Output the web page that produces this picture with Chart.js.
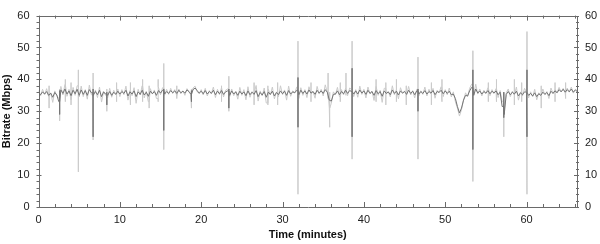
<!DOCTYPE html>
<html>
<head>
<meta charset="utf-8">
<script src="https://cdn.jsdelivr.net/npm/chart.js@4.4.1/dist/chart.umd.min.js"></script>
<style>
html,body{margin:0;padding:0;background:#fff;}
#wrap{width:600px;height:244px;position:relative;}
</style>
</head>
<body>
<div id="wrap"><canvas id="c" width="600" height="244"></canvas></div>
<script>
// sampling step of the base series, in minutes
const STEP_MIN = 0.25;
const X_MAX = 66.2;
const X_TICKS = [0, 10, 20, 30, 40, 50, 60];
const Y_TICKS = [0, 10, 20, 30, 40, 50, 60];

// light grey series: raw bitrate (Mbps), base level
const rawBitrate = [
36.5,34.8,36.9,35.2,37.1,34.6,35.8,32.8,36.4,34.9,34.0,37.8,35.1,38.4,34.7,36.9,33.6,37.5,35.0,38.0,
34.5,37.9,34.6,36.8,33.8,38.2,35.2,34.5,36.7,34.3,37.6,32.9,36.2,35.0,34.2,37.2,34.4,36.6,35.3,37.0,
34.6,36.8,35.2,37.9,33.5,36.5,34.9,37.4,32.5,36.9,35.1,38.0,34.2,36.3,33.0,37.1,35.4,36.7,34.0,37.8,
35.2,37.4,35.0,36.9,35.3,37.2,35.6,36.8,34.9,37.0,35.5,36.4,35.0,37.1,36.0,35.2,37.3,37.9,36.2,35.5,
36.8,35.1,37.2,34.8,36.5,35.6,37.6,34.3,36.9,35.2,37.4,34.5,36.6,37.0,34.6,37.0,34.9,36.3,33.8,37.5,
35.0,36.8,33.6,37.7,34.4,36.2,35.5,38.1,33.2,36.4,34.8,37.3,32.6,36.9,35.1,37.6,33.9,36.0,34.6,38.0,
35.2,36.7,33.5,37.9,34.7,36.4,35.8,37.6,34.0,37.4,35.0,36.8,34.3,37.7,35.5,36.2,34.1,37.8,35.4,36.9,
34.8,38.3,36.0,31.0,32.5,36.1,35.2,37.5,34.6,36.8,35.1,37.2,34.9,37.3,36.8,34.6,36.8,34.4,37.9,35.3,
36.9,34.2,37.6,35.5,36.3,33.4,37.8,35.0,36.6,32.8,37.2,35.4,36.1,34.5,38.0,35.2,36.7,33.9,37.4,35.6,
36.3,34.7,37.8,35.1,36.5,34.2,36.9,34.8,36.4,35.3,37.6,34.8,36.9,35.5,37.2,34.1,36.6,35.9,37.7,34.6,
36.8,35.2,37.3,34.5,36.1,33.0,31.0,28.5,30.5,33.5,35.8,34.6,37.2,38.5,35.0,38.5,35.4,37.0,34.8,36.6,
35.5,37.4,34.9,36.8,35.6,37.1,34.3,36.5,33.0,30.0,35.8,37.0,34.6,36.3,35.1,37.6,33.5,36.0,34.8,37.2,
36.0,34.2,36.1,34.5,36.9,33.6,35.8,34.9,37.0,35.2,36.2,34.0,37.3,35.6,36.8,35.9,37.5,36.1,37.2,35.8,
37.3,36.0,37.6,35.7,36.9,36.4
];

// dark grey series: averaged bitrate (Mbps), base level
const avgBitrate = [
36.0,35.2,36.1,35.4,36.2,35.0,35.7,34.4,35.9,35.1,33.0,36.7,35.6,37.0,35.4,36.4,34.9,36.6,35.5,36.9,
35.0,36.7,35.3,36.5,35.0,36.8,35.8,35.0,36.2,35.2,36.6,34.6,36.1,35.4,35.0,36.2,35.0,36.0,35.3,36.3,
35.4,36.2,35.6,36.6,34.8,36.1,35.4,36.4,34.6,36.1,35.3,36.6,35.1,36.0,34.7,36.3,35.5,36.2,35.0,36.5,
35.7,36.6,35.4,36.2,35.6,36.5,35.8,36.4,35.6,36.6,35.8,36.3,35.7,36.7,36.2,35.3,36.8,37.3,36.5,35.7,
36.3,35.5,36.5,35.4,36.2,35.6,36.6,35.2,36.3,35.5,36.5,35.3,36.1,36.4,35.0,36.4,35.4,36.1,35.0,36.3,
35.4,36.1,34.9,36.4,35.2,36.0,35.3,36.5,34.6,35.9,35.1,36.2,34.4,36.0,35.3,36.3,34.8,35.9,35.2,36.4,
35.5,36.3,35.0,36.5,35.4,36.1,35.8,36.6,35.2,36.6,35.6,36.4,35.4,36.7,35.7,36.2,35.3,36.6,35.7,36.4,
35.6,36.8,36.0,33.5,33.2,35.3,35.4,36.4,35.2,36.2,35.5,36.6,35.6,36.5,36.2,35.4,36.4,35.4,36.7,35.7,
36.4,35.3,36.6,35.6,36.2,35.0,36.5,35.5,36.2,34.7,36.4,35.6,36.1,35.2,36.7,35.6,36.3,35.1,36.4,35.7,
36.2,35.3,36.6,35.6,36.3,35.2,36.4,35.4,36.2,35.6,36.5,35.4,36.2,35.7,36.5,35.2,36.2,35.9,36.6,35.5,
36.4,35.6,36.3,35.2,35.4,34.0,31.5,29.5,31.0,33.5,35.0,34.8,36.4,37.5,35.0,37.0,35.7,36.4,35.4,36.2,
35.7,36.5,35.5,36.3,35.7,36.4,35.2,36.0,31.5,29.0,35.3,36.2,35.2,36.0,35.4,36.3,34.8,35.8,35.2,36.1,
36.0,35.0,35.6,34.8,35.8,34.6,35.5,35.0,36.0,35.3,35.9,34.9,36.3,35.6,36.4,35.8,36.8,36.1,36.9,36.0,
36.8,36.1,37.0,36.0,36.7,36.1
];

// short bursts in the raw series: time (min), peak and trough (Mbps)
const rawSpikeTimes = [1.3, 2.6, 3.3, 4.0, 4.9, 6.7, 8.4, 9.6, 11.3, 12.8, 13.6, 14.7, 15.4, 17.0, 18.8, 22.5, 23.4, 26.5, 28.2, 29.4, 31.9, 33.5, 35.6, 35.8, 37.1, 37.8, 38.55, 41.5, 42.7, 44.0, 45.2, 46.65, 48.3, 49.6, 53.4, 55.3, 56.3, 57.2, 58.5, 59.4, 60.05, 61.8, 63.5, 64.8];
const rawSpikeHigh  = [38,   37,  40,  39,  43,  42,  37,  39,   39,   40,   38,   40,   45,   38,   37,   38,   41,   39,   38,   39,   52,   39,   42,   36,   39,   42,   52,   40,   39,   40,   38,   47,    39,   40,   49,   39,   40,   36,   40,   39,   55,    38,   39,   39];
const rawSpikeLow   = [31,   27,  33,  32,  11,  21,  30,  33,   32,   33,   31,   33,   18,   34,   31,   33,   30,   32,   32,   32,   4,    33,   34,   25,   33,   35,   15,   33,   32,   33,   32,   15,    32,   33,   8,    33,   33,   22,   32,   33,   4,     31,   33,   34];

// short bursts in the averaged series
const avgSpikeTimes = [2.6, 6.7, 8.4, 15.4, 18.8, 23.4, 31.9, 38.55, 46.65, 53.4, 57.2, 60.05];
const avgSpikeHigh  = [36.5, 37, 36, 37, 36.5, 37, 40.6, 43.5, 37, 43, 36, 43];
const avgSpikeLow   = [29, 22, 32, 24, 33, 31, 25, 22, 30, 18, 28, 22];

function buildPoints(base, sT, sH, sL){
  const pts = [];
  let s = 0;
  for (let i=0; i<base.length; i++){
    const t0 = i*STEP_MIN;
    pts.push({x:t0, y:base[i]});
    while (s < sT.length && sT[s] < t0 + STEP_MIN){
      const t = sT[s];
      pts.push({x:t, y:base[i]});
      pts.push({x:t, y:sH[s]});
      pts.push({x:t, y:sL[s]});
      pts.push({x:t, y:base[i]});
      s++;
    }
  }
  return pts;
}

const FONT = "'Liberation Sans', Arial, sans-serif";

const framePlugin = {
  id:'frame',
  afterDatasetsDraw(chart){
    const {ctx, chartArea:a, scales} = chart;
    ctx.save();
    ctx.strokeStyle = '#6a6a6a';
    ctx.lineWidth = 1;
    ctx.beginPath();
    ctx.rect(Math.round(a.left)+0.5, Math.round(a.top)+0.5, Math.round(a.right-a.left)-1, Math.round(a.bottom-a.top));
    ctx.stroke();
    ctx.beginPath();
    const xs = scales.x, ys = scales.y;
    for (let v=0; v<=X_MAX; v+=2){
      const px = Math.round(xs.getPixelForValue(v))+0.5;
      const len = (v%10===0)?5:3;
      ctx.moveTo(px, a.bottom); ctx.lineTo(px, a.bottom-len);
      ctx.moveTo(px, a.top); ctx.lineTo(px, a.top+len);
    }
    for (let v=0; v<=60; v+=2){
      const py = Math.round(ys.getPixelForValue(v))+0.5;
      const len = (v%10===0)?5:3;
      ctx.moveTo(a.left-2, py); ctx.lineTo(a.left+len-2, py);
      ctx.moveTo(a.right+2, py); ctx.lineTo(a.right-len+2, py);
    }
    ctx.stroke();
    ctx.restore();
  }
};

new Chart(document.getElementById('c'), {
  type:'line',
  data:{
    datasets:[
      {label:'avg', data:buildPoints(avgBitrate, avgSpikeTimes, avgSpikeHigh, avgSpikeLow), borderColor:'#747474', borderWidth:1, pointRadius:0, tension:0, order:1},
      {label:'raw', data:buildPoints(rawBitrate, rawSpikeTimes, rawSpikeHigh, rawSpikeLow), borderColor:'#cbcbcb', borderWidth:1, pointRadius:0, tension:0, order:2}
    ]
  },
  options:{
    responsive:false,
    animation:false,
    layout:{padding:{top:7,left:0,right:0,bottom:0}},
    plugins:{legend:{display:false}, tooltip:{enabled:false}},
    scales:{
      x:{
        type:'linear', min:0, max:X_MAX, position:'bottom',
        afterFit(s){ s.height = 37; },
        afterBuildTicks(s){ s.ticks = X_TICKS.map(v=>({value:v})); },
        ticks:{includeBounds:false, padding:6, color:'#222', font:{family:FONT, size:11}, maxRotation:0},
        grid:{drawOnChartArea:false, drawTicks:false},
        border:{display:false},
        title:{display:true, text:'Time (minutes)', color:'#111', font:{family:FONT, size:11, weight:'bold'}, padding:{top:0,bottom:2}}
      },
      y:{
        type:'linear', min:0, max:60, position:'left',
        afterFit(s){ s.width = 38.5; },
        afterBuildTicks(s){ s.ticks = Y_TICKS.map(v=>({value:v})); },
        ticks:{padding:9, color:'#222', font:{family:FONT, size:11}},
        grid:{drawOnChartArea:false, drawTicks:false},
        border:{display:false},
        title:{display:true, text:'Bitrate (Mbps)', color:'#111', font:{family:FONT, size:11, weight:'bold'}, padding:{top:0,bottom:0}}
      },
      y2:{
        type:'linear', min:0, max:60, position:'right',
        afterFit(s){ s.width = 23; },
        afterBuildTicks(s){ s.ticks = Y_TICKS.map(v=>({value:v})); },
        ticks:{padding:8, color:'#222', font:{family:FONT, size:11}},
        grid:{drawOnChartArea:false, drawTicks:false},
        border:{display:false}
      }
    }
  },
  plugins:[framePlugin]
});
</script>
</body>
</html>
